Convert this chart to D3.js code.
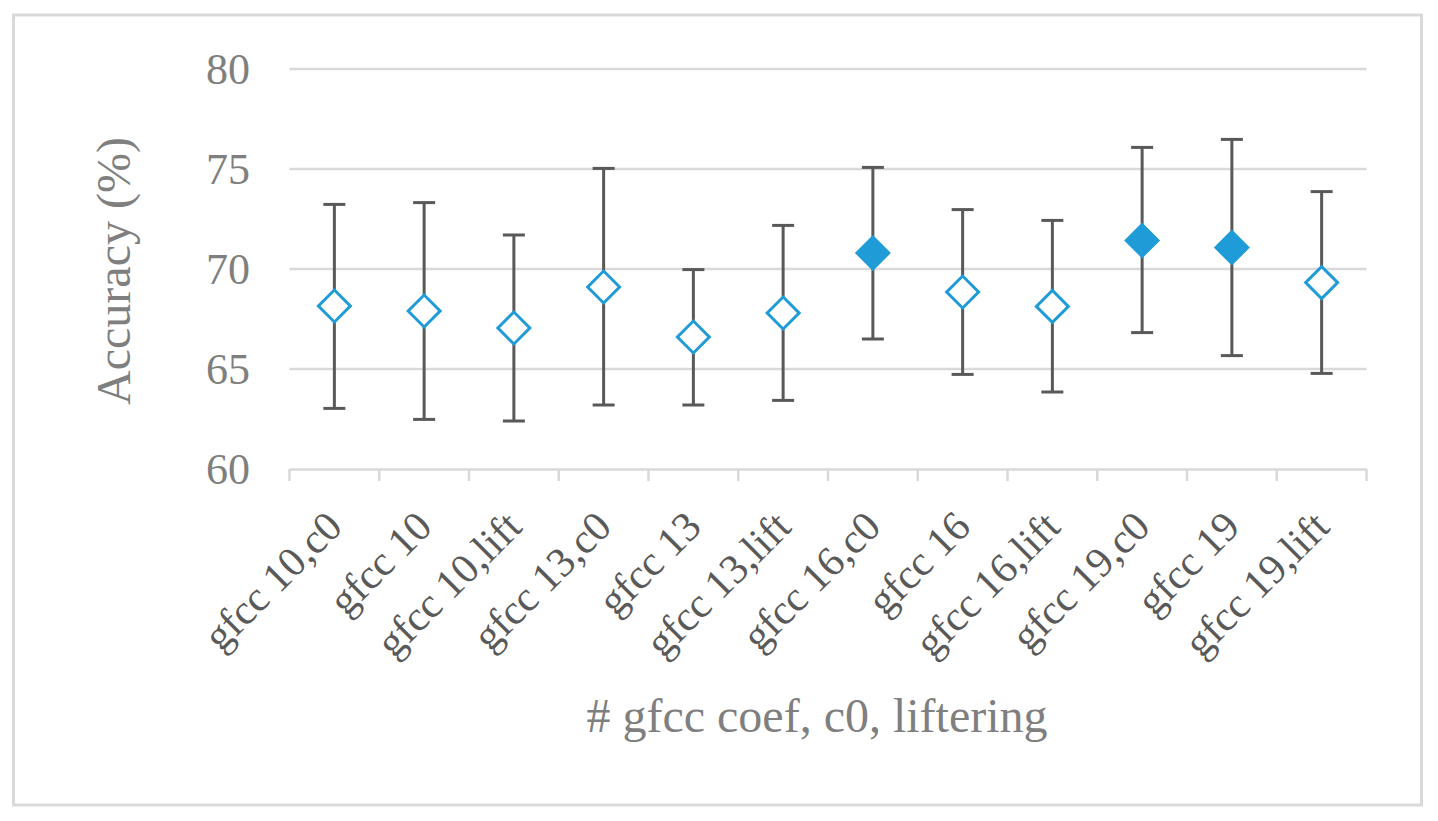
<!DOCTYPE html>
<html>
<head>
<meta charset="utf-8">
<script src="https://cdn.jsdelivr.net/npm/d3@7"></script>
<style>
  body { margin: 0; background: #fff; }
  svg { display: block; }
</style>
</head>
<body>
<div id="graph"></div>
<script>
// data
var categories = ["gfcc 10,c0", "gfcc 10", "gfcc 10,lift", "gfcc 13,c0", "gfcc 13", "gfcc 13,lift",
                  "gfcc 16,c0", "gfcc 16", "gfcc 16,lift", "gfcc 19,c0", "gfcc 19", "gfcc 19,lift"];
var means = [68.15, 67.9, 67.05, 69.1, 66.6, 67.8, 70.8, 68.85, 68.13, 71.43, 71.07, 69.32];
var upper = [73.23, 73.32, 71.7, 75.03, 69.97, 72.18, 75.08, 72.97, 72.43, 76.08, 76.48, 73.87];
var lower = [63.03, 62.48, 62.4, 63.2, 63.2, 63.43, 66.5, 64.73, 63.85, 66.82, 65.67, 64.78];
var filled = [false, false, false, false, false, false, true, false, false, true, true, false];
var yTicks = [60, 65, 70, 75, 80];

var width = 1438, height = 821;
var margin = { top: 69, right: 71.5, bottom: 352, left: 289.5 };
var blue = "#1f9bd7", gridCol = "#d9d9d9", barCol = "#595959";
var serif = "Liberation Serif, Times New Roman, serif";

var svg = d3.select("#graph")
    .append("svg")
    .attr("width", width)
    .attr("height", height);

// outer border
svg.append("rect")
    .attr("x", 13.5).attr("y", 15)
    .attr("width", 1408).attr("height", 790)
    .attr("fill", "none")
    .attr("stroke", gridCol)
    .attr("stroke-width", 3);

var x = d3.scaleBand()
    .domain(categories)
    .range([margin.left, width - margin.right])
    .padding(0);
var y = d3.scaleLinear()
    .domain([60, 80])
    .range([height - margin.bottom, margin.top]);

// gridlines
svg.append("g")
    .selectAll("line")
    .data(yTicks.filter(function (d) { return d > 60; }))
    .enter()
    .append("line")
    .attr("x1", margin.left)
    .attr("x2", width - margin.right)
    .attr("y1", function (d) { return y(d); })
    .attr("y2", function (d) { return y(d); })
    .attr("stroke", gridCol)
    .attr("stroke-width", 2.5);

// y tick labels
svg.append("g")
    .selectAll("text")
    .data(yTicks)
    .enter()
    .append("text")
    .attr("x", 250)
    .attr("y", function (d) { return y(d) + 15; })
    .attr("text-anchor", "end")
    .attr("font-family", serif)
    .attr("font-size", 44)
    .attr("fill", "#7f7f7f")
    .text(function (d) { return d; });

// x axis with tick marks between categories
var xAxis = d3.axisBottom(x).tickSize(0).tickFormat("");
var gx = svg.append("g")
    .attr("transform", "translate(0," + y(60) + ")")
    .call(xAxis);
gx.select(".domain")
    .attr("stroke", gridCol)
    .attr("stroke-width", 2.5);
var bounds = categories.map(function (c) { return x(c); }).concat([x.range()[1]]);
gx.selectAll(".sep")
    .data(bounds)
    .enter()
    .append("line")
    .attr("class", "sep")
    .attr("x1", function (d) { return d; })
    .attr("x2", function (d) { return d; })
    .attr("y1", 0)
    .attr("y2", 12)
    .attr("stroke", gridCol)
    .attr("stroke-width", 2.5);

// rotated category labels
var cx = function (c) { return x(c) + x.bandwidth() / 2; };
svg.append("g")
    .selectAll("text")
    .data(categories)
    .enter()
    .append("text")
    .attr("transform", function (d) { return "translate(" + (cx(d) + 10) + "," + 529 + ") rotate(-45)"; })
    .attr("text-anchor", "end")
    .attr("font-family", serif)
    .attr("font-size", 42)
    .attr("fill", barCol)
    .text(function (d) { return d; });

// error bars
var bars = svg.append("g");
categories.forEach(function (c, i) {
    var xc = cx(c);
    bars.append("line")
        .attr("x1", xc).attr("x2", xc)
        .attr("y1", y(upper[i])).attr("y2", y(lower[i]))
        .attr("stroke", barCol).attr("stroke-width", 3);
    [upper[i], lower[i]].forEach(function (v) {
        bars.append("line")
            .attr("x1", xc - 11).attr("x2", xc + 11)
            .attr("y1", y(v)).attr("y2", y(v))
            .attr("stroke", barCol).attr("stroke-width", 3);
    });
});

// markers
svg.append("g")
    .selectAll("path")
    .data(categories)
    .enter()
    .append("path")
    .attr("d", function (d, i) { return d3.symbol(d3.symbolSquare, filled[i] ? 648 : 512)(); })
    .attr("transform", function (d, i) { return "translate(" + cx(d) + "," + y(means[i]) + ") rotate(45)"; })
    .attr("fill", function (d, i) { return filled[i] ? blue : "#fff"; })
    .attr("stroke", function (d, i) { return filled[i] ? "none" : blue; })
    .attr("stroke-width", 3);

// axis titles
svg.append("text")
    .attr("transform", "translate(130," + 271 + ") rotate(-90)")
    .attr("text-anchor", "middle")
    .attr("font-family", serif)
    .attr("font-size", 48)
    .attr("fill", "#7f7f7f")
    .text("Accuracy (%)");

svg.append("text")
    .attr("x", 817)
    .attr("y", 732)
    .attr("text-anchor", "middle")
    .attr("font-family", serif)
    .attr("font-size", 48)
    .attr("fill", "#7f7f7f")
    .text("# gfcc coef, c0, liftering");
</script>
</body>
</html>
